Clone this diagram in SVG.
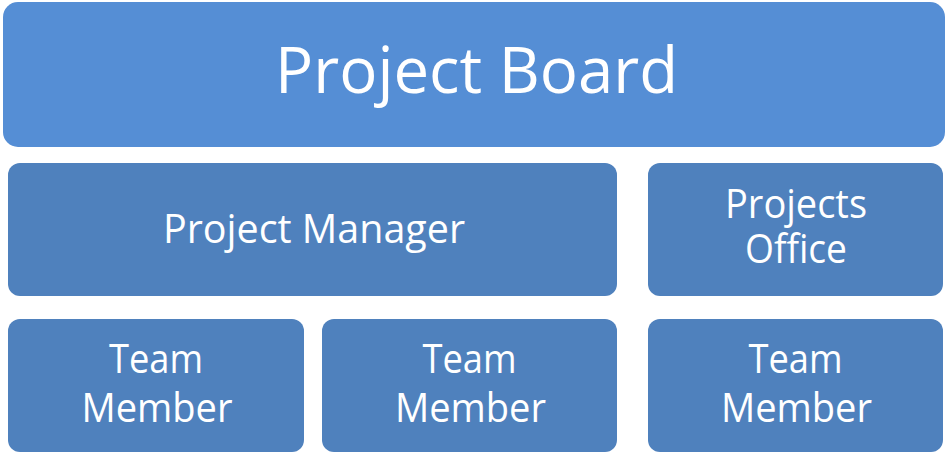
<svg xmlns="http://www.w3.org/2000/svg" width="948" height="453" viewBox="0 0 948 453">
  <style>
    .box { fill: #4f81bd; }
    .top { fill: #558ed5; }
    text { font-family: "Open Sans", "Noto Sans", "Liberation Sans", sans-serif; fill: #ffffff; text-anchor: middle; }
    .big { font-size: 64px; }
    .mid { font-size: 40px; }
  </style>
  <rect width="948" height="453" fill="#ffffff"/>
  <g id="project-board">
    <rect class="top" x="3" y="2" width="942" height="145" rx="15"/>
    <text class="big" x="476.5" y="93" textLength="403" lengthAdjust="spacingAndGlyphs">Project Board</text>
  </g>
  <g id="project-manager">
    <rect class="box" x="8" y="163" width="609" height="133" rx="12"/>
    <text class="mid" x="314" y="243" textLength="302" lengthAdjust="spacingAndGlyphs">Project Manager</text>
  </g>
  <g id="projects-office">
    <rect class="box" x="648" y="163" width="295" height="133" rx="12"/>
    <text class="mid" x="796" y="218" textLength="142" lengthAdjust="spacingAndGlyphs">Projects</text>
    <text class="mid" x="796" y="263" textLength="102" lengthAdjust="spacingAndGlyphs">Office</text>
  </g>
  <g id="team-member-1">
    <rect class="box" x="8" y="319" width="296" height="133" rx="12"/>
    <text class="mid" x="156" y="373" textLength="94" lengthAdjust="spacingAndGlyphs">Team</text>
    <text class="mid" x="157" y="422" textLength="151" lengthAdjust="spacingAndGlyphs">Member</text>
  </g>
  <g id="team-member-2">
    <rect class="box" x="322" y="319" width="295" height="133" rx="12"/>
    <text class="mid" x="469.5" y="373" textLength="94" lengthAdjust="spacingAndGlyphs">Team</text>
    <text class="mid" x="470.5" y="422" textLength="151" lengthAdjust="spacingAndGlyphs">Member</text>
  </g>
  <g id="team-member-3">
    <rect class="box" x="648" y="319" width="295" height="133" rx="12"/>
    <text class="mid" x="795.5" y="373" textLength="94" lengthAdjust="spacingAndGlyphs">Team</text>
    <text class="mid" x="796.5" y="422" textLength="151" lengthAdjust="spacingAndGlyphs">Member</text>
  </g>
  <g id="connectors"/>
</svg>
